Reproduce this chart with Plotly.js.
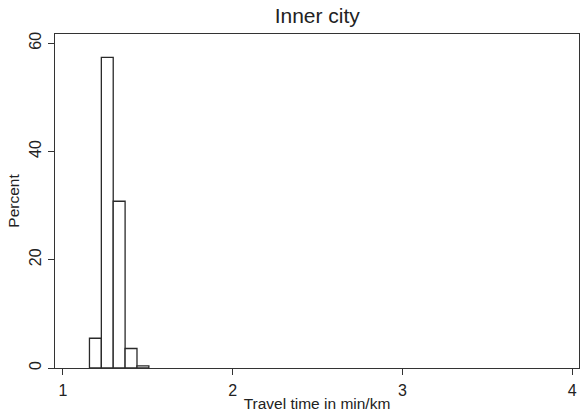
<!DOCTYPE html>
<html><head><meta charset="utf-8">
<script src="https://cdn.plot.ly/plotly-3.0.1.min.js"></script>
<style>html,body{margin:0;padding:0;background:#fff}#c{width:580px;height:412px}</style>
</head><body><div id="c"></div>
<script>
const binCenters = [1.191, 1.261, 1.331, 1.401, 1.471];
const percent = [5.5, 57.4, 30.8, 3.6, 0.4];
const binWidth = 0.07;
const yTicks = [0, 20, 40, 60];
const xTicks = [1, 2, 3, 4];

Plotly.newPlot('c', [{
  type: 'bar', x: binCenters, y: percent, width: binWidth,
  marker: {color: '#ffffff', line: {color: '#2a2a2a', width: 1.3}},
  hoverinfo: 'skip'
}], {
  width: 580, height: 412,
  margin: {l: 55, r: 1, t: 34, b: 44},
  paper_bgcolor: '#fff', plot_bgcolor: '#fff',
  font: {family: 'Liberation Sans, Arial, sans-serif', color: '#222'},
  title: {text: 'Inner city', font: {size: 21, color: '#222'}, x: 0.547, xanchor: 'center', y: 0.962, yanchor: 'middle'},
  showlegend: false,
  xaxis: {range: [0.953, 4.04], tickvals: xTicks, ticktext: xTicks.map(String),
    ticks: 'outside', ticklen: 6, tickcolor: '#333', showgrid: false, zeroline: false,
    showline: true, linecolor: '#333', linewidth: 1.3, mirror: true, automargin: false,
    ticklabelstandoff: 1,
    tickfont: {size: 16}, title: {text: 'Travel time in min/km', font: {size: 15.5}, standoff: 0}},
  yaxis: {range: [0, 61.7], tickvals: yTicks, ticktext: yTicks.map(String), tickangle: -90,
    ticks: 'outside', ticklen: 6, tickcolor: '#333', showgrid: false, zeroline: false,
    showline: true, linecolor: '#333', linewidth: 1.3, mirror: true, automargin: false,
    tickfont: {size: 16}, title: {text: 'Percent', font: {size: 15.5}, standoff: 4}}
}, {staticPlot: true});
</script></body></html>
